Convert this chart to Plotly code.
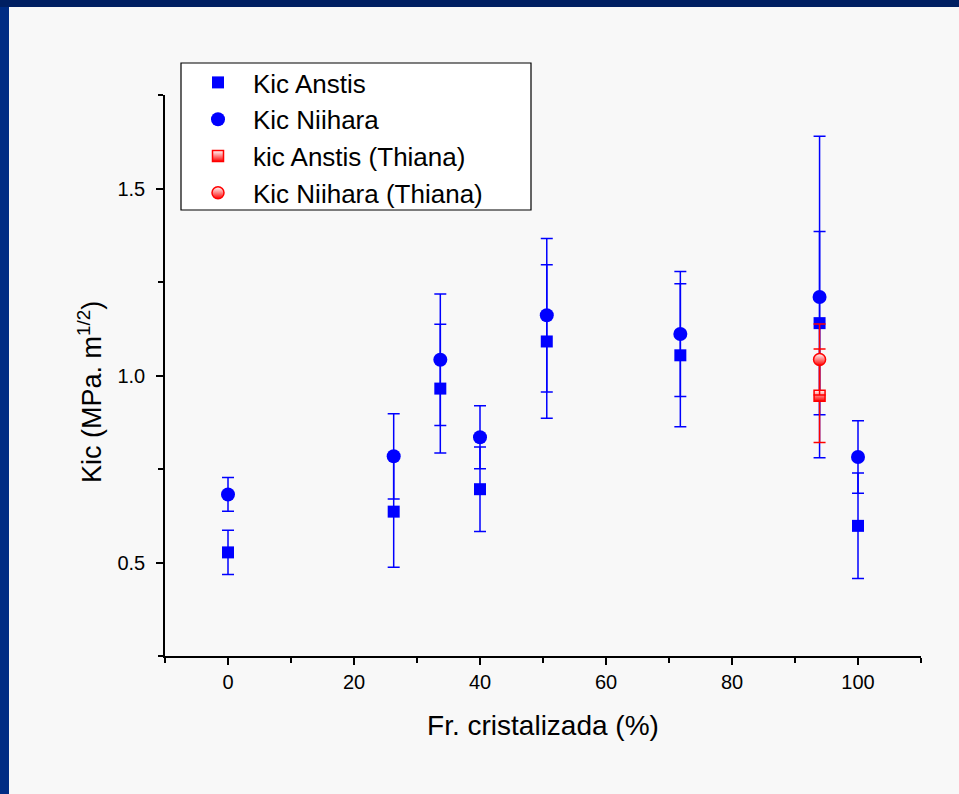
import plotly.graph_objects as go

# Fr. cristalizada (%)
fr = [0, 26.3, 33.7, 40, 50.6, 71.8, 93.9, 100]

kic_anstis = [0.527, 0.636, 0.965, 0.696, 1.091, 1.054, 1.140, 0.598]
err_anstis = [0.059, 0.149, 0.172, 0.113, 0.205, 0.191, 0.245, 0.141]

kic_niihara = [0.682, 0.784, 1.042, 0.835, 1.161, 1.111, 1.210, 0.782]
err_niihara = [0.045, 0.114, 0.176, 0.084, 0.205, 0.167, 0.430, 0.097]

# Thiana
fr_thiana = [93.9]
kic_anstis_thiana = [0.946]
err_anstis_thiana = [0.125]
kic_niihara_thiana = [1.043]
err_niihara_thiana = [0.095]

fnt = "Liberation Sans, Arial, sans-serif"

# plot area in pixels: x 165..921, y 95..656
W, H = 756, 561
def px(x):
    return (x - 165) / W
def py(y):
    return (656 - y) / H

fig = go.Figure()

fig.add_trace(go.Scatter(
    x=fr, y=kic_anstis, mode='markers', name='Kic Anstis',
    marker=dict(symbol='square', size=12, color='#0000ff'),
    error_y=dict(type='data', array=err_anstis, color='#0000ff', thickness=1.5, width=6)))

fig.add_trace(go.Scatter(
    x=fr, y=kic_niihara, mode='markers', name='Kic Niihara',
    marker=dict(symbol='circle', size=14, color='#0000ff'),
    error_y=dict(type='data', array=err_niihara, color='#0000ff', thickness=1.5, width=6)))

fig.add_trace(go.Scatter(
    x=fr_thiana, y=kic_anstis_thiana, mode='markers', name='kic Anstis (Thiana)',
    marker=dict(symbol='square', size=11, color='#ffffff',
                gradient=dict(type='vertical', color='#ff0000'),
                line=dict(color='#ff0000', width=1.5)),
    error_y=dict(type='data', array=err_anstis_thiana, color='#ff0000', thickness=1.5, width=6)))

fig.add_trace(go.Scatter(
    x=fr_thiana, y=kic_niihara_thiana, mode='markers', name='Kic Niihara (Thiana)',
    marker=dict(symbol='circle', size=12, color='#ffffff',
                gradient=dict(type='vertical', color='#ff0000'),
                line=dict(color='#ff0000', width=1.5)),
    error_y=dict(type='data', array=err_niihara_thiana, color='#ff0000', thickness=1.5, width=6)))

# dark blue frame at top and left
fig.add_shape(type='rect', xref='paper', yref='paper', layer='below',
              x0=-0.25, x1=1.1, y0=py(7), y1=1.3,
              fillcolor='#001f62', line_width=0)
fig.add_shape(type='rect', xref='paper', yref='paper', layer='below',
              x0=-0.25, x1=px(9), y0=-0.3, y1=py(7),
              fillcolor='#002c84', line_width=0)

# legend box
fig.add_shape(type='rect', xref='paper', yref='paper', layer='below',
              x0=px(181), x1=px(531), y0=py(210), y1=py(63),
              fillcolor='#ffffff', line=dict(color='#000000', width=1.2))

# y axis title
fig.add_annotation(text='Kic (MPa. m<sup>1/2</sup>)', xref='paper', yref='paper',
                   x=px(90), y=py(392), textangle=-90, showarrow=False,
                   xanchor='center', yanchor='middle', font=dict(size=27))

fig.update_layout(
    width=959, height=794,
    margin=dict(l=165, r=38, t=95, b=138),
    paper_bgcolor='#f8f8f8', plot_bgcolor='rgba(0,0,0,0)',
    font=dict(family=fnt, color='#000000', size=20),
    showlegend=True,
    legend=dict(x=px(183), y=py(59), xanchor='left', yanchor='top',
                bgcolor='rgba(0,0,0,0)', borderwidth=0,
                font=dict(size=26, family=fnt), itemwidth=60),
)

fig.update_xaxes(
    range=[-10, 110], dtick=20, tick0=0, showgrid=False, zeroline=False,
    showline=True, linecolor='#000000', linewidth=1.5,
    ticks='outside', ticklen=7, tickwidth=1.5, tickcolor='#000000',
    minor=dict(dtick=10, ticks='outside', ticklen=5, tickwidth=1.5, tickcolor='#000000'),
    tickfont=dict(size=20),
    title=dict(text='Fr. cristalizada (%)', font=dict(size=28), standoff=24),
)

fig.update_yaxes(
    range=[0.25, 1.75], dtick=0.5, tick0=0.5, tickformat='.1f',
    showgrid=False, zeroline=False,
    showline=True, linecolor='#000000', linewidth=1.5,
    ticks='outside', ticklen=7, tickwidth=1.5, tickcolor='#000000',
    minor=dict(dtick=0.25, ticks='outside', ticklen=5, tickwidth=1.5, tickcolor='#000000'),
    tickfont=dict(size=20), ticklabelstandoff=7,
)

fig.write_html("out.html", config={'displayModeBar': False},
               post_script="document.body.style.margin='0';")
